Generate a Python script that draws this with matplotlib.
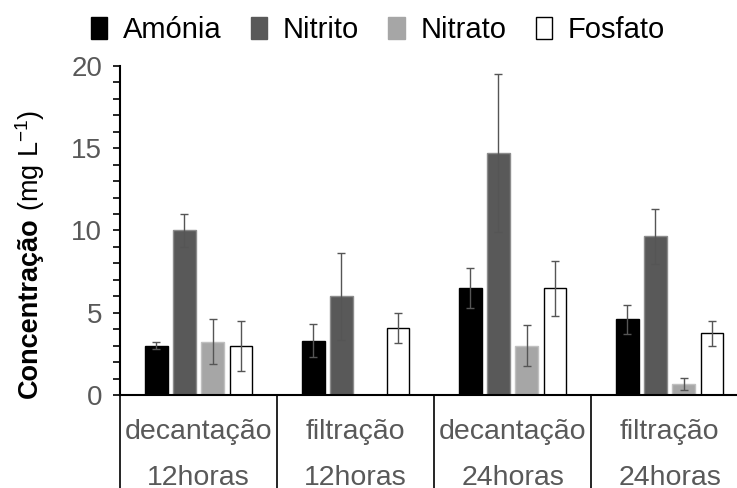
import matplotlib
matplotlib.use("Agg")
import matplotlib.pyplot as plt
import numpy as np
from matplotlib.patches import Patch
from matplotlib.transforms import blended_transform_factory

plt.rcParams['font.family'] = ['Liberation Sans', 'DejaVu Sans']
plt.rcParams['mathtext.fontset'] = 'custom'
plt.rcParams['mathtext.rm'] = 'Liberation Sans'

grupos = ['decantação\n12horas', 'filtração\n12horas', 'decantação\n24horas', 'filtração\n24horas']
series = ['Amónia', 'Nitrito', 'Nitrato', 'Fosfato']
amonia = [3.0, 3.3, 6.5, 4.6]
nitrito = [10.0, 6.0, 14.7, 9.65]
nitrato = [3.25, 0.0, 3.0, 0.68]
fosfato = [3.0, 4.05, 6.5, 3.75]
err_amonia = [0.22, 1.0, 1.2, 0.88]
err_nitrito = [1.0, 2.65, 4.8, 1.68]
err_nitrato = [1.38, 0.0, 1.25, 0.35]
err_fosfato = [1.52, 0.92, 1.67, 0.77]

valores = [amonia, nitrito, nitrato, fosfato]
erros = [err_amonia, err_nitrito, err_nitrato, err_fosfato]
cores = ['#000000', '#595959', '#a6a6a6', '#ffffff']
bordas = ['#000000', '#8c8c8c', '#c0c0c0', '#000000']
cinza = '#595959'

fig = plt.figure(figsize=(7.37, 4.88), dpi=100)
ax = fig.add_axes([0.163, 0.1906, 0.852, 0.6742])

x = np.arange(len(grupos))
larg = 0.145
passo = 0.18
for i in range(len(series)):
    pos = x + (i - 1.5) * passo
    v = np.array(valores[i])
    e = np.array(erros[i])
    mask = v > 0
    ax.bar(pos[mask], v[mask], larg, color=cores[i], edgecolor=bordas[i], linewidth=1.0, zorder=2)
    ax.errorbar(pos[mask], v[mask], yerr=e[mask], fmt='none', ecolor='#555555',
                elinewidth=1.0, capsize=3, capthick=1.0, zorder=3)

ax.set_xlim(-0.5, len(grupos) - 0.5)
ax.set_ylim(0, 20)
ax.set_yticks([0, 5, 10, 15, 20])
ax.set_yticks(np.arange(0, 21, 1), minor=True)
ax.tick_params(axis='y', which='both', direction='out', length=5, width=1.2,
               labelsize=20, labelcolor=cinza, colors='black')
ax.tick_params(axis='y', which='major', pad=8)
ax.tick_params(axis='x', which='both', bottom=False, labelbottom=False)
for s in ['top', 'right']:
    ax.spines[s].set_visible(False)
for s in ['left', 'bottom']:
    ax.spines[s].set_linewidth(1.5)

# categorias com divisões verticais
trans = blended_transform_factory(ax.transData, ax.transAxes)
for k in range(len(grupos) + 1):
    ax.plot([k - 0.5, k - 0.5], [0, -0.35], color='black', lw=1.2,
            transform=trans, clip_on=False)
for k, g in enumerate(grupos):
    l1, l2 = g.split('\n')
    ax.text(k, -0.112, l1, transform=trans, ha='center', va='center', fontsize=20.5, color=cinza)
    ax.text(k, -0.252, l2, transform=trans, ha='center', va='center', fontsize=20.5, color=cinza)

# rótulo do eixo y: parte em negrito + parte normal
fig.canvas.draw()
r = fig.canvas.get_renderer()
y0 = 0.185
t1 = fig.text(0.041, y0, 'Concentração', rotation=90, rotation_mode='anchor',
              ha='left', va='center', fontsize=19.5, fontweight='bold')
bb = t1.get_window_extent(renderer=r)
t2 = fig.text(0.041, y0 + (bb.height + 6) / fig.bbox.height, '(mg L$^{-1}$)', rotation=90,
              rotation_mode='anchor', ha='left', va='center', fontsize=19.5)

handles = [Patch(facecolor=cores[i], edgecolor='black' if i == 3 else cores[i], linewidth=1.0)
           for i in range(len(series))]
fig.legend(handles, series, loc='center', bbox_to_anchor=(0.513, 0.938), ncol=4,
           frameon=False, fontsize=21, handlelength=0.55, handleheight=0.8,
           handletextpad=0.55, columnspacing=1.0)

fig.savefig('out.png', dpi=100)
